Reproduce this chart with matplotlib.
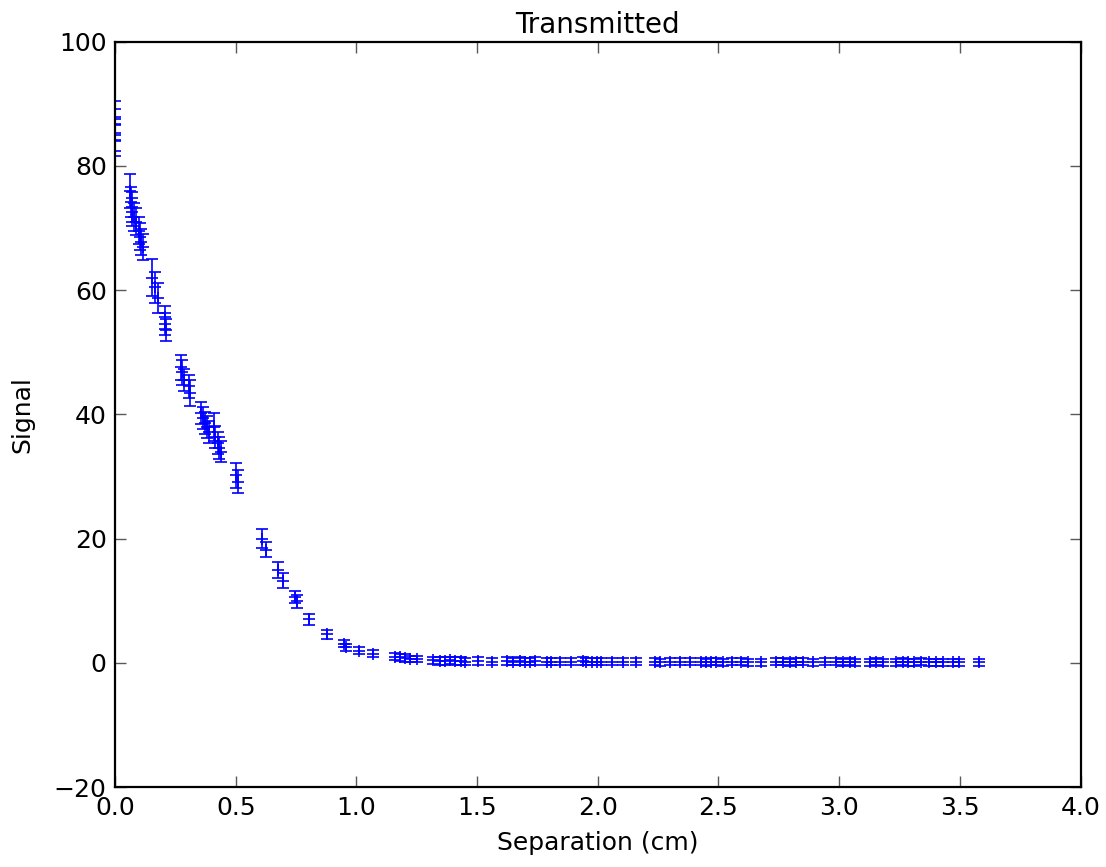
import matplotlib
matplotlib.use("Agg")
import matplotlib.pyplot as plt

# steep part of the curve
sep_near = [0.0, 0.0, 0.0, 0.0,
            0.062, 0.066, 0.070, 0.072, 0.078, 0.085,
            0.098, 0.104, 0.108, 0.115,
            0.155, 0.165, 0.180, 0.205, 0.208, 0.212,
            0.272, 0.278, 0.285, 0.305, 0.310,
            0.355, 0.365, 0.372, 0.380, 0.388, 0.410, 0.415, 0.425, 0.430, 0.440,
            0.500, 0.510,
            0.608, 0.625, 0.675, 0.695, 0.745, 0.755, 0.805, 0.878, 0.948, 0.955,
            1.010, 1.070, 1.160, 1.180, 1.200, 1.220, 1.250]
sig_near = [87.9, 86.6, 85.0, 84.2,
            76.0, 74.2, 73.4, 72.6, 71.8, 71.0,
            69.6, 68.6, 67.8, 67.0,
            62.0, 60.5, 58.8, 55.6, 54.6, 53.6,
            47.6, 46.8, 45.5, 44.5, 43.4,
            40.2, 39.4, 38.6, 38.0, 37.2, 38.0, 36.4, 35.4, 34.6, 34.0,
            30.2, 29.2,
            20.0, 18.2, 15.0, 13.2, 10.6, 9.9, 7.0, 4.6, 3.1, 2.5,
            2.0, 1.5, 1.0, 0.9, 0.8, 0.7, 0.6]
err_near = [2.6, 2.6, 2.6, 2.6,
            2.7, 2.4, 2.4, 2.3, 2.3, 2.2,
            2.2, 2.2, 2.1, 2.1,
            3.0, 2.5, 2.4, 1.8, 1.8, 1.8,
            2.0, 2.0, 1.8, 1.9, 2.1,
            1.8, 1.8, 1.8, 1.8, 1.8, 2.3, 1.8, 1.8, 1.8, 1.7,
            2.0, 1.9,
            1.5, 1.2, 1.3, 1.2, 1.0, 1.0, 0.9, 0.7, 0.6, 0.6,
            0.6, 0.6, 0.6, 0.6, 0.6, 0.5, 0.5]

# flat tail near zero
sep_tail = [1.318, 1.346, 1.366, 1.387, 1.408, 1.435, 1.449, 1.504, 1.560,
            1.622, 1.650, 1.677, 1.698, 1.719, 1.740, 1.788, 1.808, 1.843,
            1.891, 1.939, 1.953, 1.974, 1.995, 2.015, 2.057, 2.105, 2.160,
            2.236, 2.257, 2.298, 2.340, 2.381, 2.429, 2.450, 2.471, 2.491,
            2.519, 2.554, 2.595, 2.622, 2.677, 2.740, 2.767, 2.795, 2.822,
            2.850, 2.891, 2.940, 2.988, 3.015, 3.043, 3.064, 3.126, 3.153,
            3.181, 3.236, 3.264, 3.284, 3.312, 3.340, 3.374, 3.402, 3.429,
            3.471, 3.498, 3.581]
sig_tail = [0.4, 0.3, 0.3, 0.4, 0.3, 0.3, 0.2, 0.3, 0.2,
            0.3, 0.2, 0.3, 0.2, 0.2, 0.3, 0.2, 0.2, 0.2,
            0.2, 0.3, 0.2, 0.2, 0.2, 0.2, 0.2, 0.2, 0.2,
            0.2, 0.1, 0.2, 0.2, 0.2, 0.2, 0.1, 0.2, 0.2,
            0.1, 0.2, 0.2, 0.1, 0.1, 0.2, 0.2, 0.1, 0.2,
            0.2, 0.1, 0.2, 0.2, 0.1, 0.2, 0.1, 0.1, 0.2,
            0.1, 0.1, 0.2, 0.1, 0.1, 0.2, 0.1, 0.1, 0.1,
            0.1, 0.1, 0.1]
err_tail = [0.6] * len(sep_tail)

sep = sep_near + sep_tail
sig = sig_near + sig_tail
err = err_near + err_tail

plt.rcParams["font.family"] = ["DejaVu Sans"]

fig = plt.figure(figsize=(11.06, 8.67), dpi=100)
ax = fig.add_axes([0.104, 0.092, 0.873, 0.860])

ax.errorbar(sep, sig, yerr=err, fmt="+", color="b", ecolor="b",
            markersize=8, markeredgewidth=1.2, elinewidth=1.2,
            capsize=4, capthick=1.2)

ax.set_xlim(0, 4.0)
ax.set_ylim(-20, 100)
ax.set_xticks([0.0, 0.5, 1.0, 1.5, 2.0, 2.5, 3.0, 3.5, 4.0])
ax.set_yticks([-20, 0, 20, 40, 60, 80, 100])
ax.tick_params(direction="in", length=8, width=1, top=True, right=True,
               color="0.35", labelsize=18, pad=6)
for s in ax.spines.values():
    s.set_linewidth(1.6)

ax.set_title("Transmitted", fontsize=20, pad=6)
ax.set_xlabel("Separation (cm)", fontsize=18, labelpad=8)
ax.set_ylabel("Signal", fontsize=18, labelpad=14)

fig.savefig("out.png", dpi=100, facecolor="white")
